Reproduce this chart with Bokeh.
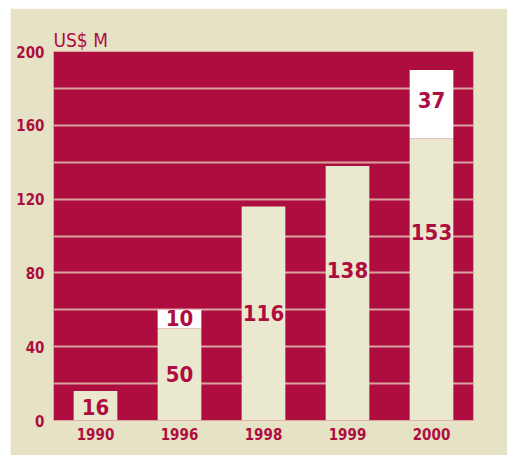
from bokeh.plotting import figure
from bokeh.models import ColumnDataSource, FixedTicker
from bokeh.core.properties import value
from bokeh.embed import file_html
from bokeh.resources import INLINE

years = ["1990", "1996", "1998", "1999", "2000"]
base_vals = [16, 50, 116, 138, 153]
top_vals = [0, 10, 0, 0, 37]
y_ticks = [0, 40, 80, 120, 160, 200]
grid_ticks = [20, 40, 60, 80, 100, 120, 140, 160, 180]
unit_label = "US$ M"

# label placement (layout only)
base_label_pos = [7.5, 25, 58.5, 81.5, 102]
top_label_pos = [None, 55.3, None, None, 173.5]

CRIMSON = "#AE0D3F"
OUTER = "#E6E2C5"
BAR = "#EBE8D0"
GRID = "#D9A3A0"
NARROW = "DejaVu Sans Condensed"

p = figure(x_range=years, y_range=(0, 200), width=497, height=447,
           output_backend="svg", toolbar_location=None, title=unit_label,
           min_border_left=43, min_border_right=34, min_border_top=43, min_border_bottom=35)
p.margin = (8, 0, 0, 10)
p.background_fill_color = CRIMSON
p.border_fill_color = OUTER
p.outline_line_color = GRID
p.outline_line_width = 1

p.title.text_font = NARROW
p.title.text_font_size = "19px"
p.title.text_font_style = "normal"
p.title.text_color = CRIMSON
p.title.align = "left"
p.title.standoff = 1
p.title.offset = 0

tops = [b + t for b, t in zip(base_vals, top_vals)]
src = ColumnDataSource(dict(x=years, base=base_vals, top=tops))
p.vbar(x="x", top="base", bottom=0, width=0.52, source=src, fill_color=BAR, line_color=None)
p.vbar(x="x", top="top", bottom="base", width=0.52, source=src, fill_color="white", line_color=None)

lx, ly, lt = [], [], []
for i, y in enumerate(years):
    lx.append(y); ly.append(base_label_pos[i]); lt.append(str(base_vals[i]))
    if top_vals[i]:
        lx.append(y); ly.append(top_label_pos[i]); lt.append(str(top_vals[i]))
lsrc = ColumnDataSource(dict(x=lx, y=ly, t=lt))
p.text(x="x", y="y", text="t", source=lsrc, text_align="center", text_baseline="middle",
       text_font=value(NARROW), text_font_style="bold", text_font_size="22px", text_color=CRIMSON)

p.xgrid.grid_line_color = None
p.ygrid.ticker = FixedTicker(ticks=grid_ticks)
p.ygrid.grid_line_color = GRID
p.ygrid.grid_line_width = 2

p.yaxis.ticker = FixedTicker(ticks=y_ticks)
for ax in (p.xaxis[0], p.yaxis[0]):
    ax.axis_line_color = None
    ax.major_tick_line_color = None
    ax.minor_tick_line_color = None
    ax.major_tick_out = 0
    ax.major_tick_in = 0
    ax.minor_tick_out = 0
    ax.minor_tick_in = 0
    ax.major_label_text_color = CRIMSON
    ax.major_label_text_font = NARROW
    ax.major_label_text_font_style = "bold"
    ax.major_label_text_font_size = "15px"
p.yaxis.major_label_standoff = 9
p.xaxis.major_label_standoff = 7
p.x_range.range_padding = 0

open("out.html", "w").write(file_html(p, INLINE))
